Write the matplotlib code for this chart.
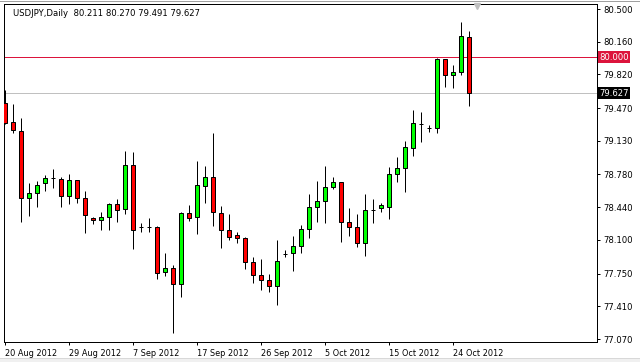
import matplotlib
matplotlib.use("Agg")
import matplotlib.pyplot as plt
from matplotlib.patches import Rectangle
from matplotlib.lines import Line2D

# daily USDJPY bars, 20 Aug - 26 Oct 2012 (broker feed incl. Sunday bars)
opens = [79.526, 79.328, 79.235, 78.532, 78.584, 78.688, 78.740, 78.736, 78.553, 78.719,
         78.532, 78.324, 78.304, 78.335, 78.470, 78.418, 78.875, 78.237, 78.231, 78.231,
         77.763, 77.811, 77.638, 78.376, 78.335, 78.663, 78.757, 78.376, 78.203, 78.148,
         78.120, 77.867, 77.732, 77.680, 77.617, 77.953, 77.960, 78.039, 78.213, 78.439,
         78.504, 78.647, 78.699, 78.283, 78.231, 78.064, 78.411, 78.428, 78.445, 78.782,
         78.844, 79.052, 79.305, 79.266, 79.260, 79.977, 79.811, 79.845, 80.211]
highs = [79.658, 79.512, 79.364, 78.688, 78.712, 78.774, 78.837, 78.757, 78.785, 78.722,
         78.608, 78.335, 78.390, 78.485, 78.522, 79.024, 79.010, 78.279, 78.327, 78.244,
         77.960, 77.839, 78.387, 78.459, 78.917, 78.868, 79.208, 78.452, 78.366, 78.179,
         78.133, 77.919, 77.898, 77.745, 78.099, 77.995, 78.140, 78.255, 78.577, 78.712,
         78.868, 78.750, 78.705, 78.428, 78.366, 78.577, 78.525, 78.480, 78.861, 78.958,
         79.128, 79.450, 79.426, 79.299, 79.994, 79.980, 79.918, 80.362, 80.270]
lows = [79.300, 79.208, 78.283, 78.351, 78.445, 78.611, 78.642, 78.445, 78.470, 78.486,
        78.175, 78.262, 78.203, 78.203, 78.289, 78.366, 78.008, 78.185, 78.185, 77.690,
        77.728, 77.129, 77.509, 78.299, 78.161, 78.480, 78.244, 78.012, 78.099, 78.071,
        77.794, 77.655, 77.579, 77.555, 77.423, 77.919, 77.780, 77.967, 78.116, 78.289,
        78.272, 78.629, 78.075, 78.140, 78.029, 77.936, 78.279, 78.393, 78.317, 78.699,
        78.601, 78.975, 79.121, 79.221, 79.208, 79.692, 79.676, 79.811, 79.491]
closes = [79.312, 79.242, 78.532, 78.584, 78.667, 78.740, 78.740, 78.559, 78.719, 78.538,
          78.356, 78.304, 78.335, 78.470, 78.407, 78.875, 78.200, 78.237, 78.231, 77.753,
          77.811, 77.638, 78.376, 78.331, 78.667, 78.757, 78.387, 78.203, 78.127, 78.116,
          77.867, 77.732, 77.680, 77.617, 77.877, 77.953, 78.039, 78.213, 78.439, 78.504,
          78.647, 78.699, 78.283, 78.231, 78.064, 78.411, 78.411, 78.459, 78.782, 78.844,
          79.062, 79.312, 79.305, 79.266, 79.980, 79.811, 79.845, 80.219, 79.627]

date_ticks = [0, 8, 16, 24, 32, 40, 48, 56]
date_labels = ["20 Aug 2012", "29 Aug 2012", "7 Sep 2012", "17 Sep 2012",
               "26 Sep 2012", "5 Oct 2012", "15 Oct 2012", "24 Oct 2012"]
price_ticks = [80.500, 80.160, 79.820, 79.470, 79.130, 78.780, 78.440, 78.100, 77.750, 77.410, 77.070]
level_line = 80.000
bid = 79.627

W, H = 640, 362
fig = plt.figure(figsize=(W / 100, H / 100), dpi=100)
fig.patch.set_facecolor("white")
px = 0.72  # 1 pixel in points

ax = fig.add_axes([4 / W, (H - 341.7) / H, 593.3 / W, 337.4 / H])
ax.set_facecolor("white")
ax.set_xlim(-0.125, 74.04)
ax.set_ylim(77.042, 80.549)

xs = list(range(len(opens)))
ax.vlines(xs, lows, highs, color="black", lw=px, zorder=2)
for i in xs:
    o, c = opens[i], closes[i]
    col = "#00ff00" if c >= o else "#ff0000"
    ax.bar(i, abs(c - o), bottom=min(o, c), width=0.6, color=col,
           edgecolor="black", linewidth=px, zorder=3)

ax.axhline(level_line, color="#dc143c", lw=px, zorder=1)
ax.axhline(bid, color="#c0c0c0", lw=px, zorder=1)

for s in ax.spines.values():
    s.set_color("black")
    s.set_linewidth(px)

ax.yaxis.tick_right()
ax.set_yticks(price_ticks)
ax.set_yticklabels([f"{v:.3f}" for v in price_ticks])
ax.tick_params(axis="y", direction="out", length=2.4, width=px, pad=2,
               labelsize=6.1, colors="black")
ax.set_xticks(date_ticks)
ax.set_xticklabels(date_labels)
ax.tick_params(axis="x", direction="out", length=2.4, width=px, pad=2.5,
               labelsize=5.9, colors="black")
for lab in ax.get_xticklabels():
    lab.set_ha("left")

# price tags on the right scale
ax.text(1.003, (level_line - 77.042) / (80.549 - 77.042), f"{level_line:.3f}",
        transform=ax.transAxes, ha="left", va="center", fontsize=6.1, color="white",
        bbox=dict(boxstyle="square,pad=0.18", fc="#dc143c", ec="none"), zorder=5)
ax.text(1.003, (bid - 77.042) / (80.549 - 77.042), f"{bid:.3f}",
        transform=ax.transAxes, ha="left", va="center", fontsize=6.1, color="white",
        bbox=dict(boxstyle="square,pad=0.18", fc="black", ec="none"), zorder=5)

# chart shift marker
ax.plot([59], [80.531], marker="v", color="#c0c0c0", markersize=5, clip_on=False, zorder=4)

ax.text(9 / 593.3, 1 - 9 / 337.4, "USDJPY,Daily  80.211 80.270 79.491 79.627",
        transform=ax.transAxes, ha="left", va="center", fontsize=6.1, color="black")

# window frame
fig.add_artist(Rectangle((0, 0), 1, 4 / H, transform=fig.transFigure,
                         fc="#f0f0f0", ec="none"))
fig.add_artist(Line2D([0, 1], [4 / H, 4 / H], transform=fig.transFigure,
                      color="#d8d8d8", lw=px))
fig.add_artist(Line2D([0, 1], [1 - 0.5 / H, 1 - 0.5 / H], transform=fig.transFigure,
                      color="#a0a0a0", lw=px))

fig.savefig("out.png", dpi=100)
